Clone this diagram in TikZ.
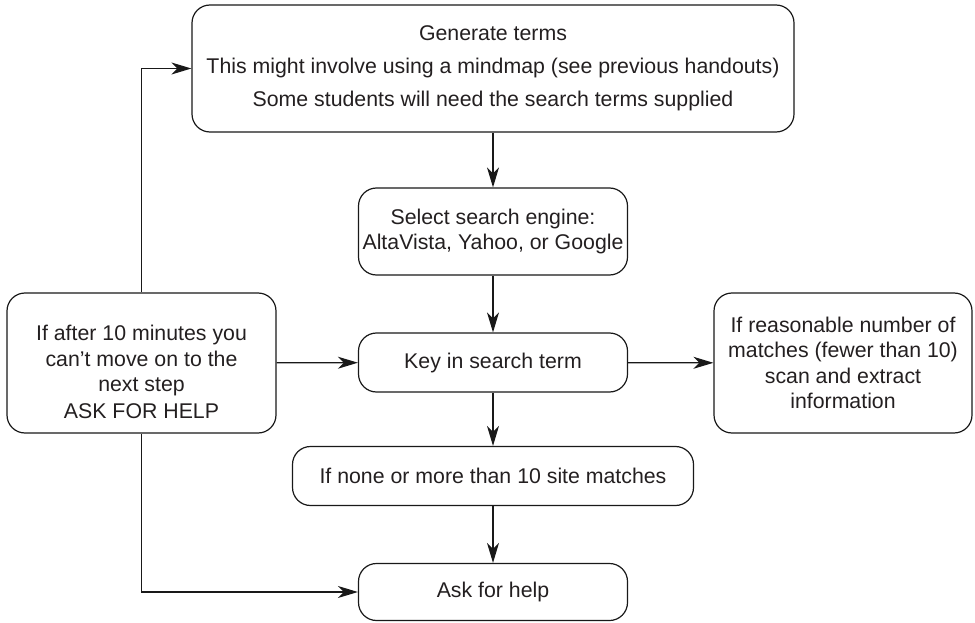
\documentclass[tikz,border=0pt]{standalone}
\usepackage{fontspec}
\setmainfont{Liberation Sans}
\usetikzlibrary{arrows.meta}
\definecolor{txt}{HTML}{231F20}
\begin{document}
\begin{tikzpicture}[x=1pt,y=-1pt,
  box/.style={draw=black!90, rounded corners=18pt, line width=1.2pt, align=center,
    inner sep=0pt, text=txt, font=\fontsize{21.3}{25.5}\selectfont},
  arr/.style={draw=black!90, line width=1.2pt,
    -{Stealth[length=20pt,width=12pt,inset=6pt]}}]
\useasboundingbox (0,0) rectangle (975,623);
\node[box, minimum width=602pt, minimum height=127pt] (gen) at (493,68.5)
  {Generate terms\\[7.5pt]This might involve using a mindmap (see previous handouts)\\[7.5pt]Some students will need the search terms supplied};
\node[box, minimum width=269pt, minimum height=87pt] (sel) at (493,231.5)
  {Select search engine:\\AltaVista, Yahoo, or Google};
\node[box, minimum width=269pt, minimum height=59pt] (key) at (493,362.5)
  {Key in search term};
\node[box, minimum width=269pt, minimum height=140pt] (left) at (141.5,363)
  {\rule{0pt}{33pt}If after 10 minutes you\\can’t move on to the\\next step\\[1pt]ASK FOR HELP};
\node[box, minimum width=258pt, minimum height=140pt] (right) at (843,363)
  {If reasonable number of\\matches (fewer than 10)\\scan and extract\\information};
\node[box, minimum width=401pt, minimum height=59pt] (none) at (493,476)
  {If none or more than 10 site matches};
\node[box, minimum width=269pt, minimum height=57pt] (ask) at (493,592)
  {Ask for help};
\draw[arr] (gen) -- (sel);
\draw[arr] (sel) -- (key);
\draw[arr] (key) -- (none);
\draw[arr] (none) -- (ask);
\draw[arr] (left) -- (key);
\draw[arr] (key) -- (right);
\draw[arr] (left.north) |- (gen.west);
\draw[arr] (left.south) |- (ask.west);
\end{tikzpicture}
\end{document}
